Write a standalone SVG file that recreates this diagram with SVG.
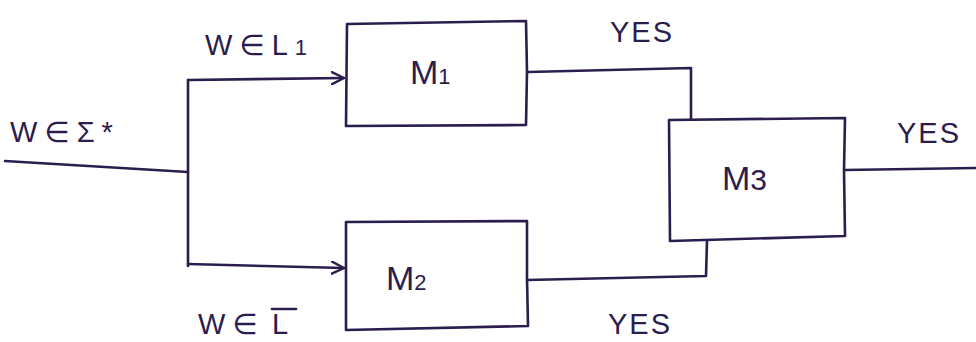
<svg xmlns="http://www.w3.org/2000/svg" width="976" height="342" viewBox="0 0 976 342">
  <defs>
    <style>
      .ink { fill: none; stroke: #2b1d4e; stroke-width: 2.6; stroke-linecap: round; stroke-linejoin: round; }
      .lbl { font-family: "Liberation Sans", "DejaVu Sans", sans-serif; font-size: 29px; fill: #2b1d4e; letter-spacing: 7px; }
      .yes { font-family: "Liberation Sans", "DejaVu Sans", sans-serif; font-size: 29px; fill: #2b1d4e; letter-spacing: 2px; }
      .name { font-family: "Liberation Sans", "DejaVu Sans", sans-serif; font-size: 34px; fill: #2b1d4e; }
    </style>
    <marker id="arrow" viewBox="0 0 14 14" refX="13" refY="7" markerWidth="14" markerHeight="14" markerUnits="userSpaceOnUse" orient="auto">
      <path d="M1 1 L13 7 L1 13" fill="none" stroke="#2b1d4e" stroke-width="2.4" stroke-linecap="round" stroke-linejoin="round"/>
    </marker>
  </defs>
  <rect width="976" height="342" fill="#ffffff"/>

  <!-- machines -->
  <g id="m1">
    <path class="ink" d="M347 24 L526 21 L527 72 L526 125 L346 126 Z"/>
    <text class="name" x="410" y="84">M<tspan font-size="22">1</tspan></text>
  </g>
  <g id="m2">
    <path class="ink" d="M346 222 L527 221 L527 278 L528 326 L346 330 Z"/>
    <text class="name" x="386" y="290">M<tspan font-size="22">2</tspan></text>
  </g>
  <g id="m3">
    <path class="ink" d="M669 120 L845 118 L844 170 L845 236 L670 241 Z"/>
    <text class="name" x="722" y="190">M<tspan font-size="30">3</tspan></text>
  </g>

  <!-- connectors -->
  <g id="connectors">
    <path class="ink" d="M5 161 L188 172"/>
    <path class="ink" d="M188 80 L188 266"/>
    <path class="ink" marker-end="url(#arrow)" d="M188 80 L344 78"/>
    <path class="ink" marker-end="url(#arrow)" d="M188 264 L344 268"/>
    <path class="ink" d="M528 72 L691 68 L691 119"/>
    <path class="ink" d="M527 280 L706 276 L707 241"/>
    <path class="ink" d="M845 170 L976 168"/>
  </g>

  <!-- labels -->
  <g id="labels">
    <text class="lbl" x="205" y="55">W∈L<tspan font-size="22">1</tspan></text>
    <text class="lbl" x="10" y="142" letter-spacing="12">W∈Σ*</text>
    <text class="lbl" x="198" y="334">W∈</text>
    <text class="lbl" x="272" y="334">L</text>
    <path class="ink" d="M272 309 L296 309"/>
    <text class="yes" x="610" y="42">YES</text>
    <text class="yes" x="897" y="143">YES</text>
    <text class="yes" x="608" y="334">YES</text>
  </g>
</svg>
